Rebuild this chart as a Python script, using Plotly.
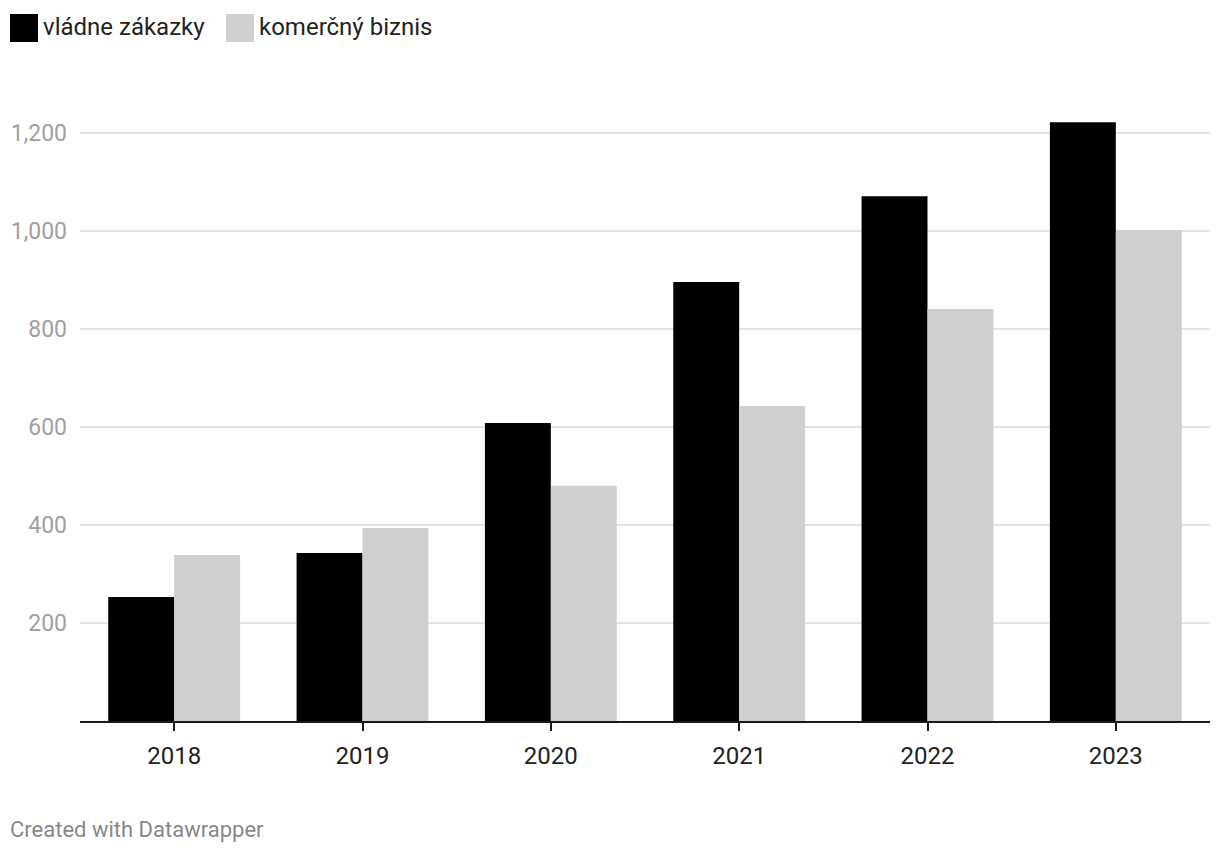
import plotly.graph_objects as go

years = ["2018", "2019", "2020", "2021", "2022", "2023"]
vladne = [253, 343, 608, 896, 1071, 1222]
komercny = [339, 394, 480, 643, 841, 1002]
series_names = ["vládne zákazky", "komerčný biznis"]
colors = ["#000000", "#cfcfcf"]
y_ticks = [200, 400, 600, 800, 1000, 1200]

# page body adds an 8px margin on every side
OFF = 8
W, H = 1220 - 2 * OFF, 854 - 2 * OFF
L = 80 - OFF
R = W - (1210 - OFF)
T = 84 - OFF
B = H - (721 - OFF)

fig = go.Figure()
fig.add_trace(go.Bar(x=years, y=vladne, name=series_names[0], marker=dict(color=colors[0], line=dict(width=0))))
fig.add_trace(go.Bar(x=years, y=komercny, name=series_names[1], marker=dict(color=colors[1], line=dict(width=0))))

pw = W - L - R
ph = H - T - B
def px(x):
    return (x - OFF - L) / pw
def py(y):
    return (H - B - (y - OFF)) / ph

# manual legend
shapes = []
annotations = []
leg = [(10, 41), (226, 257)]
for (sx, tx), name, c in zip(leg, series_names, colors):
    shapes.append(dict(type="rect", xref="paper", yref="paper",
                       x0=px(sx), x1=px(sx + 28), y0=py(14), y1=py(42),
                       fillcolor=c, line=dict(width=0)))
    annotations.append(dict(text=name, xref="paper", yref="paper", x=px(tx), y=py(27),
                            xanchor="left", yanchor="middle", showarrow=False,
                            font=dict(family="Roboto", size=24, color="#222222")))
annotations.append(dict(text="Created with Datawrapper", xref="paper", yref="paper",
                        x=px(8), y=py(829), xanchor="left", yanchor="middle", showarrow=False,
                        font=dict(family="Roboto", size=22, color="#888888")))

fig.update_layout(
    width=W, height=H,
    margin=dict(l=L, r=R, t=T, b=B, pad=0),
    paper_bgcolor="white", plot_bgcolor="white",
    barmode="group", bargap=0.3, bargroupgap=0,
    showlegend=False,
    shapes=shapes, annotations=annotations,
    font=dict(family="Roboto"),
    xaxis=dict(showline=True, linecolor="#1a1a1a", linewidth=2,
               ticks="outside", ticklen=8, tickwidth=2, tickcolor="#1a1a1a",
               tickfont=dict(family="Roboto", size=24, color="#222222"),
               ticklabelstandoff=4,
               showgrid=False, zeroline=False),
    yaxis=dict(range=[0, 1300], tickvals=y_ticks, tickformat=",",
               tickfont=dict(family="Roboto", size=23, color="#a0a0a0"),
               showgrid=True, gridcolor="#e3e3e3", gridwidth=1.5,
               zeroline=False, showline=False, ticklabelstandoff=12),
)

fig.write_html("out.html")
